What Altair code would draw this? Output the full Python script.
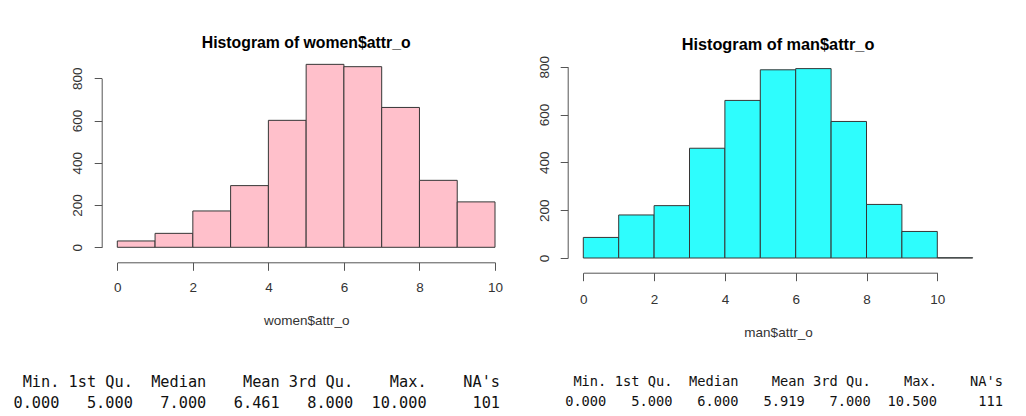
import altair as alt
import pandas as pd

# ---------------- data ----------------
women_bin_start = [0, 1, 2, 3, 4, 5, 6, 7, 8, 9]
women_bin_end = [1, 2, 3, 4, 5, 6, 7, 8, 9, 10]
women_counts = [30, 66, 172, 292, 601, 866, 855, 662, 317, 215]

man_bin_start = [0, 1, 2, 3, 4, 5, 6, 7, 8, 9, 10]
man_bin_end = [1, 2, 3, 4, 5, 6, 7, 8, 9, 10, 11]
man_counts = [86, 180, 219, 459, 659, 787, 792, 571, 224, 111, 1]

x_ticks = [0, 2, 4, 6, 8, 10]
y_ticks = [0, 200, 400, 600, 800]

summary_names = ["Min.", "1st Qu.", "Median", "Mean", "3rd Qu.", "Max.", "NA's"]
women_summary = ["0.000", "5.000", "7.000", "6.461", "8.000", "10.000", "101"]
man_summary = ["0.000", "5.000", "6.000", "5.919", "7.000", "10.500", "111"]

women_title = "Histogram of women$attr_o"
man_title = "Histogram of man$attr_o"
women_xlabel = "women$attr_o"
man_xlabel = "man$attr_o"

SANS = "Liberation Sans"
MONO = "DejaVu Sans Mono"


def hist(starts, ends, counts, fill, xrange, yrange, xoff, yoff, xtitle,
         title_x, title_y, lab_pad_x, lab_pad_y):
    df = pd.DataFrame({"start": starts, "end": ends, "count": counts})
    return alt.Chart(df).mark_rect(fill=fill, stroke="#363636", strokeWidth=1).encode(
        x=alt.X("start:Q",
                scale=alt.Scale(domain=[0, 10], range=xrange, nice=False, zero=False),
                axis=alt.Axis(orient="bottom", offset=xoff, values=x_ticks,
                              title=xtitle, titleX=title_x, titleY=title_y,
                              titleBaseline="middle", titleAnchor="middle",
                              labelPadding=lab_pad_x, tickSize=8)),
        x2="end:Q",
        y=alt.Y("count:Q",
                scale=alt.Scale(domain=[0, 800], range=yrange, nice=False),
                axis=alt.Axis(orient="left", offset=yoff, values=y_ticks, title="",
                              labelAngle=270, labelAlign="center",
                              labelBaseline="middle", labelPadding=lab_pad_y,
                              tickSize=7.5)),
        y2=alt.datum(0),
    )


def summary(values, xrange, yrange, fs):
    rows = []
    for j, (n, v) in enumerate(zip(summary_names, values)):
        end = (j + 1) * 8 - 1
        rows.append({"text": n, "col": end, "row": 0})
        rows.append({"text": v, "col": end, "row": 1})
    df = pd.DataFrame(rows)
    return alt.Chart(df).mark_text(align="right", baseline="middle", font=MONO,
                                   fontSize=fs, color="#111111").encode(
        x=alt.X("col:Q", scale=alt.Scale(domain=[0, 55], range=xrange, nice=False, zero=False), axis=None),
        y=alt.Y("row:Q", scale=alt.Scale(domain=[0, 1], range=yrange, nice=False, zero=False), axis=None),
        text="text:N",
    )


def title(txt, x, y, fs):
    df = pd.DataFrame({"t": [txt]})
    return alt.Chart(df).mark_text(align="center", baseline="middle", font=SANS,
                                   fontWeight="bold", fontSize=fs, color="#000000").encode(
        x=alt.value(x), y=alt.value(y), text="t:N")


left = hist(women_bin_start, women_bin_end, women_counts, "#FFC0CB",
            [109.3, 487.0], [239.3, 70.3], -152.7, -93.7, women_xlabel,
            298.2, 57.7, 10, 16.5)
right = hist(man_bin_start, man_bin_end, man_counts, "#2EFDFD",
             [575.3, 929.3], [250.0, 58.7], -142.3, -559.7, man_xlabel,
             770.0, 59.3, 11.5, 16)

left_sum = summary(women_summary, [-12.84, 492.0], [374.0, 394.5], 15.25)
right_sum = summary(man_summary, [540.5, 995.0], [373.5, 393.5], 13.7)

left_title = title(women_title, 298.2, 34.5, 15.8)
right_title = title(man_title, 770.0, 37.0, 16.3)

chart = alt.layer(left, right, left_sum, right_sum, left_title, right_title).resolve_scale(
    x="independent", y="independent"
).properties(
    width=1010, height=407,
    autosize=alt.AutoSizeParams(type="none"),
    padding=0,
).configure_view(stroke=None).configure_axis(
    grid=False,
    labelFont=SANS, labelFontSize=13.5, labelColor="#333333",
    titleFont=SANS, titleFontSize=13.5, titleColor="#333333", titleFontWeight="normal",
    domainColor="#555555", tickColor="#555555", domainWidth=1, tickWidth=1,
    labelFlush=False, labelOverlap=False,
)

chart.save("out.html", embed_options={"renderer": "svg", "actions": False})
